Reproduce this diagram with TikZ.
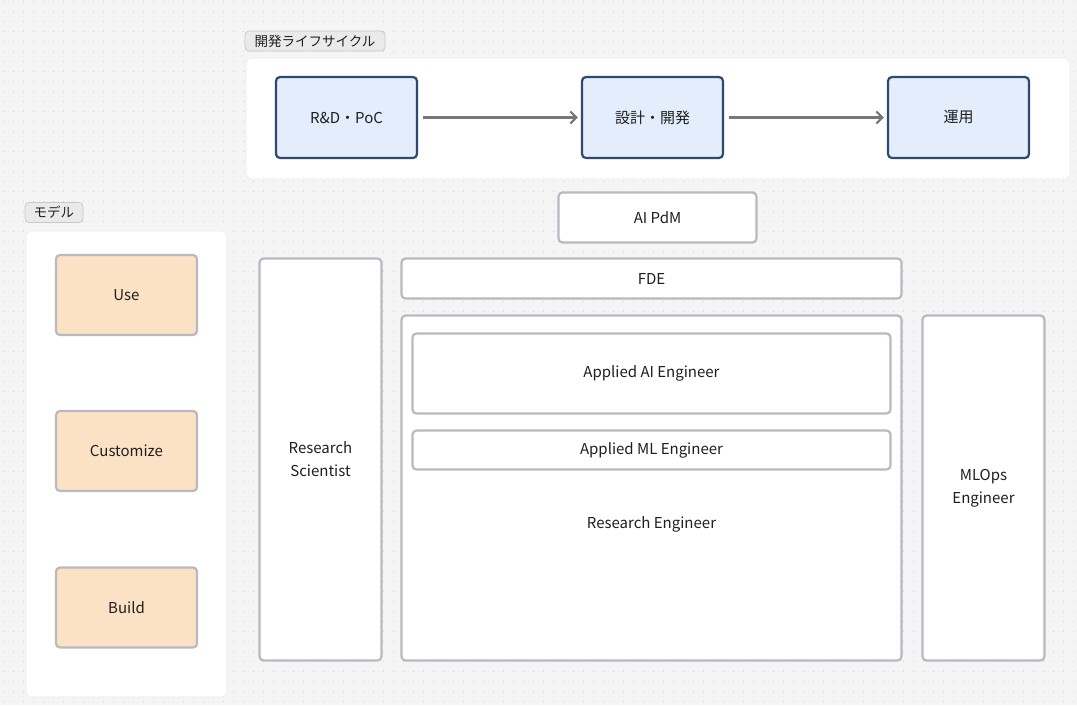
\documentclass[tikz,border=0pt]{standalone}
\usepackage{fontspec}
\setmainfont{Noto Sans CJK JP}
\usetikzlibrary{arrows.meta,patterns}

\definecolor{bggray}{HTML}{F5F5F6}
\definecolor{dotgray}{HTML}{CFCFD4}
\definecolor{phaseblue}{HTML}{E3EDFC}
\definecolor{phaseline}{HTML}{2F4A6E}
\definecolor{modelpeach}{HTML}{FCE2C4}
\definecolor{boxline}{HTML}{B9B9C2}
\definecolor{tagfill}{HTML}{EAEAEA}
\definecolor{tagline}{HTML}{C8C8C8}
\definecolor{arrowgray}{HTML}{77777A}
\definecolor{txt}{HTML}{1F1F1F}

\pgfdeclarepatternformonly{canvasdots}{\pgfpointorigin}{\pgfpoint{10pt}{10pt}}{\pgfpoint{10pt}{10pt}}{
  \pgfpathcircle{\pgfpoint{5pt}{5pt}}{0.6pt}
  \pgfusepath{fill}
}

\tikzset{
  panel/.style={fill=white,draw=white!92!black,line width=0.6pt,rounded corners=6pt},
  tag/.style={fill=tagfill,draw=tagline,line width=0.8pt,rounded corners=4pt,
    inner sep=0pt,minimum height=20pt,text=txt,font=\fontsize{13.5}{15}\selectfont},
  phase/.style={fill=phaseblue,draw=phaseline,line width=2.2pt,rounded corners=4pt,
    minimum width=141pt,minimum height=81pt,text=txt,font=\fontsize{15}{18}\selectfont},
  model/.style={fill=modelpeach,draw=boxline,line width=2.2pt,rounded corners=4pt,
    minimum width=141pt,minimum height=80pt,text=txt,font=\fontsize{15}{18}\selectfont},
  role/.style={fill=white,draw=boxline,line width=2.2pt,rounded corners=4pt,
    align=center,text=txt,font=\fontsize{15}{23}\selectfont},
  flow/.style={draw=arrowgray,line width=2.2pt,-{Straight Barb[length=6pt,width=12pt]}}
}

\begin{document}
\begin{tikzpicture}[x=1pt,y=-1pt]
  \useasboundingbox (0,0) rectangle (1077,705);
  \fill[bggray] (0,0) rectangle (1077,705);
  % dotted canvas
  \fill[pattern=canvasdots,pattern color=dotgray] (0,0) rectangle (1077,705);

  % lifecycle
  \node[tag,minimum width=140pt] (lifetag) at (315,41) {開発ライフサイクル};
  \draw[panel] (246,58) rectangle (1070,179);
  \node[phase] (rd) at (346.5,117.5) {R\&D・PoC};
  \node[phase] (dev) at (652.5,117.5) {設計・開発};
  \node[phase] (ops) at (958.5,117.5) {運用};
  \draw[flow] ([xshift=5pt]rd.east) -- ([xshift=-3pt]dev.west);
  \draw[flow] ([xshift=5pt]dev.east) -- ([xshift=-3pt]ops.west);

  % models
  \node[tag,minimum width=58pt] (modeltag) at (54,212.5) {モデル};
  \draw[panel] (26,231) rectangle (227,697);
  \node[model] (use) at (126.5,295) {Use};
  \node[model] (custom) at (126.5,451) {Customize};
  \node[model] (build) at (126.5,607.5) {Build};

  % roles
  \node[role,minimum width=198pt,minimum height=50pt] (pdm) at (657.5,217.5) {AI PdM};
  \node[role,minimum width=500pt,minimum height=40pt] (fde) at (651.5,278.5) {FDE};
  \node[role,minimum width=122pt,minimum height=402pt] (rs) at (320.5,459.5) {Research\\Scientist};
  \node[role,minimum width=500pt,minimum height=345pt] (re) at (651.5,488) {};
  \node[text=txt,font=\fontsize{15}{18}\selectfont] (relabel) at (651.5,524) {Research Engineer};
  \node[role,minimum width=478pt,minimum height=80pt] (aai) at (651.5,373.5) {Applied AI Engineer};
  \node[role,minimum width=478pt,minimum height=39pt] (aml) at (651.5,450) {Applied ML Engineer};
  \node[role,minimum width=122pt,minimum height=345pt] (mlops) at (983.5,488) {MLOps\\Engineer};
\end{tikzpicture}
\end{document}
